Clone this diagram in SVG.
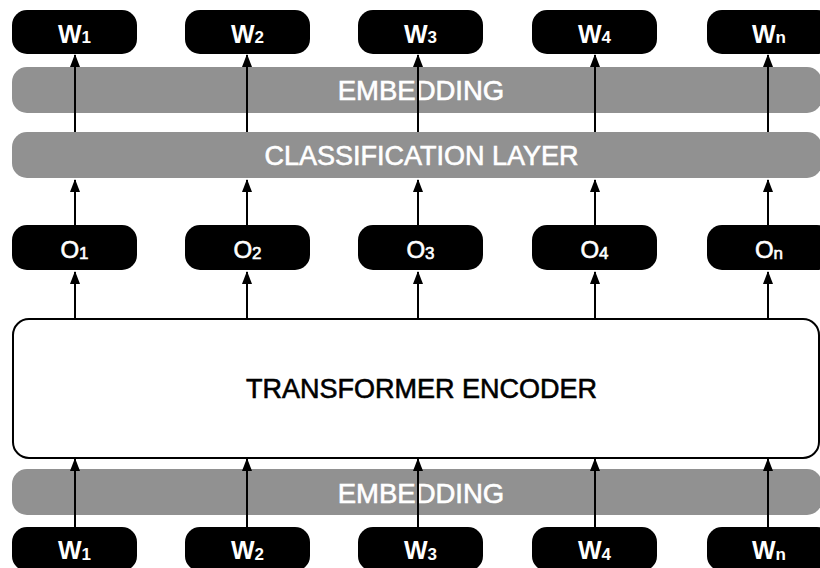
<svg xmlns="http://www.w3.org/2000/svg" width="820" height="568" viewBox="0 0 820 568">
<defs>
<style>
.bar{fill:#919191}
.box{fill:#000}
.enc{fill:#fff;stroke:#000;stroke-width:2}
.bt{font-family:"Liberation Sans",Arial,sans-serif;font-size:27px;fill:#fff;stroke:#fff;stroke-width:0.6;text-anchor:middle}
.et{font-family:"Liberation Sans",Arial,sans-serif;font-size:27px;fill:#000;stroke:#000;stroke-width:0.6;text-anchor:middle}
.wl{font-family:"Liberation Sans",Arial,sans-serif;font-size:25px;font-weight:bold;fill:#fff;text-anchor:middle}
.ol{font-family:"Liberation Sans",Arial,sans-serif;font-size:24px;fill:#fff;stroke:#fff;stroke-width:0.6;text-anchor:middle}
.sub{font-size:17px}
.arr{stroke:#000;stroke-width:2;fill:none;marker-end:url(#ah)}
</style>
<marker id="ah" markerWidth="13" markerHeight="10" refX="12" refY="5" orient="auto" markerUnits="userSpaceOnUse" viewBox="0 0 13 10">
<path d="M0,0 L13,5 L0,10 Z" fill="#000"/>
</marker>
</defs>
<rect width="820" height="568" fill="#fff"/>

<g id="embedding-top">
<rect class="bar" x="12" y="67" width="810" height="46" rx="15"/>
<text class="bt" x="421" y="99.5" style="font-size:27.5px">EMBEDDING</text>
</g>
<g id="classification">
<rect class="bar" x="12" y="132" width="810" height="46" rx="15"/>
<text class="bt" x="421.5" y="164.5">CLASSIFICATION LAYER</text>
</g>
<g id="encoder">
<rect class="enc" x="13" y="319" width="806" height="139" rx="16"/>
<text class="et" x="421.5" y="397.5">TRANSFORMER ENCODER</text>
</g>
<g id="embedding-bottom">
<rect class="bar" x="12" y="469" width="810" height="46" rx="15"/>
<text class="bt" x="421" y="502.5" style="font-size:27.5px">EMBEDDING</text>
</g>

<g id="out-w1"><rect class="box" x="12" y="10" width="125" height="44" rx="15"/><text class="wl" x="74.5" y="42.5">W<tspan class="sub" dy="0.5">1</tspan></text></g>
<g id="out-w2"><rect class="box" x="185" y="10" width="125" height="44" rx="15"/><text class="wl" x="247.5" y="42.5">W<tspan class="sub" dy="0.5">2</tspan></text></g>
<g id="out-w3"><rect class="box" x="358" y="10" width="125" height="44" rx="15"/><text class="wl" x="420.5" y="42.5">W<tspan class="sub" dy="0.5">3</tspan></text></g>
<g id="out-w4"><rect class="box" x="532" y="10" width="125" height="44" rx="15"/><text class="wl" x="594.5" y="42.5">W<tspan class="sub" dy="0.5">4</tspan></text></g>
<g id="out-wn"><rect class="box" x="707" y="10" width="125" height="44" rx="15"/><text class="wl" x="769" y="42.5">W<tspan class="sub" dy="0.5">n</tspan></text></g>

<g id="o1"><rect class="box" x="12" y="225" width="125" height="45" rx="15"/><text class="ol" x="74.5" y="258">O<tspan class="sub" dy="0.5">1</tspan></text></g>
<g id="o2"><rect class="box" x="185" y="225" width="125" height="45" rx="15"/><text class="ol" x="247.5" y="258">O<tspan class="sub" dy="0.5">2</tspan></text></g>
<g id="o3"><rect class="box" x="358" y="225" width="125" height="45" rx="15"/><text class="ol" x="420.5" y="258">O<tspan class="sub" dy="0.5">3</tspan></text></g>
<g id="o4"><rect class="box" x="532" y="225" width="125" height="45" rx="15"/><text class="ol" x="594.5" y="258">O<tspan class="sub" dy="0.5">4</tspan></text></g>
<g id="on"><rect class="box" x="707" y="225" width="125" height="45" rx="15"/><text class="ol" x="769" y="258">O<tspan class="sub" dy="0.5">n</tspan></text></g>

<g id="in-w1"><rect class="box" x="12" y="527" width="125" height="44" rx="15"/><text class="wl" x="74.5" y="559">W<tspan class="sub" dy="0.5">1</tspan></text></g>
<g id="in-w2"><rect class="box" x="185" y="527" width="125" height="44" rx="15"/><text class="wl" x="247.5" y="559">W<tspan class="sub" dy="0.5">2</tspan></text></g>
<g id="in-w3"><rect class="box" x="358" y="527" width="125" height="44" rx="15"/><text class="wl" x="420.5" y="559">W<tspan class="sub" dy="0.5">3</tspan></text></g>
<g id="in-w4"><rect class="box" x="532" y="527" width="125" height="44" rx="15"/><text class="wl" x="594.5" y="559">W<tspan class="sub" dy="0.5">4</tspan></text></g>
<g id="in-wn"><rect class="box" x="707" y="527" width="125" height="44" rx="15"/><text class="wl" x="769" y="559">W<tspan class="sub" dy="0.5">n</tspan></text></g>

<g id="connectors">
<line class="arr" x1="75" y1="132" x2="75" y2="55"/>
<line class="arr" x1="247" y1="132" x2="247" y2="55"/>
<line class="arr" x1="418" y1="132" x2="418" y2="55"/>
<line class="arr" x1="595" y1="132" x2="595" y2="55"/>
<line class="arr" x1="768" y1="132" x2="768" y2="55"/>

<line class="arr" x1="75" y1="225" x2="75" y2="180"/>
<line class="arr" x1="247" y1="225" x2="247" y2="180"/>
<line class="arr" x1="418" y1="225" x2="418" y2="180"/>
<line class="arr" x1="595" y1="225" x2="595" y2="180"/>
<line class="arr" x1="768" y1="225" x2="768" y2="180"/>

<line class="arr" x1="75" y1="318" x2="75" y2="272"/>
<line class="arr" x1="247" y1="318" x2="247" y2="272"/>
<line class="arr" x1="418" y1="318" x2="418" y2="272"/>
<line class="arr" x1="595" y1="318" x2="595" y2="272"/>
<line class="arr" x1="768" y1="318" x2="768" y2="272"/>

<line class="arr" x1="75" y1="527" x2="75" y2="459"/>
<line class="arr" x1="247" y1="527" x2="247" y2="459"/>
<line class="arr" x1="418" y1="527" x2="418" y2="459"/>
<line class="arr" x1="595" y1="527" x2="595" y2="459"/>
<line class="arr" x1="768" y1="527" x2="768" y2="459"/>
</g>
</svg>
